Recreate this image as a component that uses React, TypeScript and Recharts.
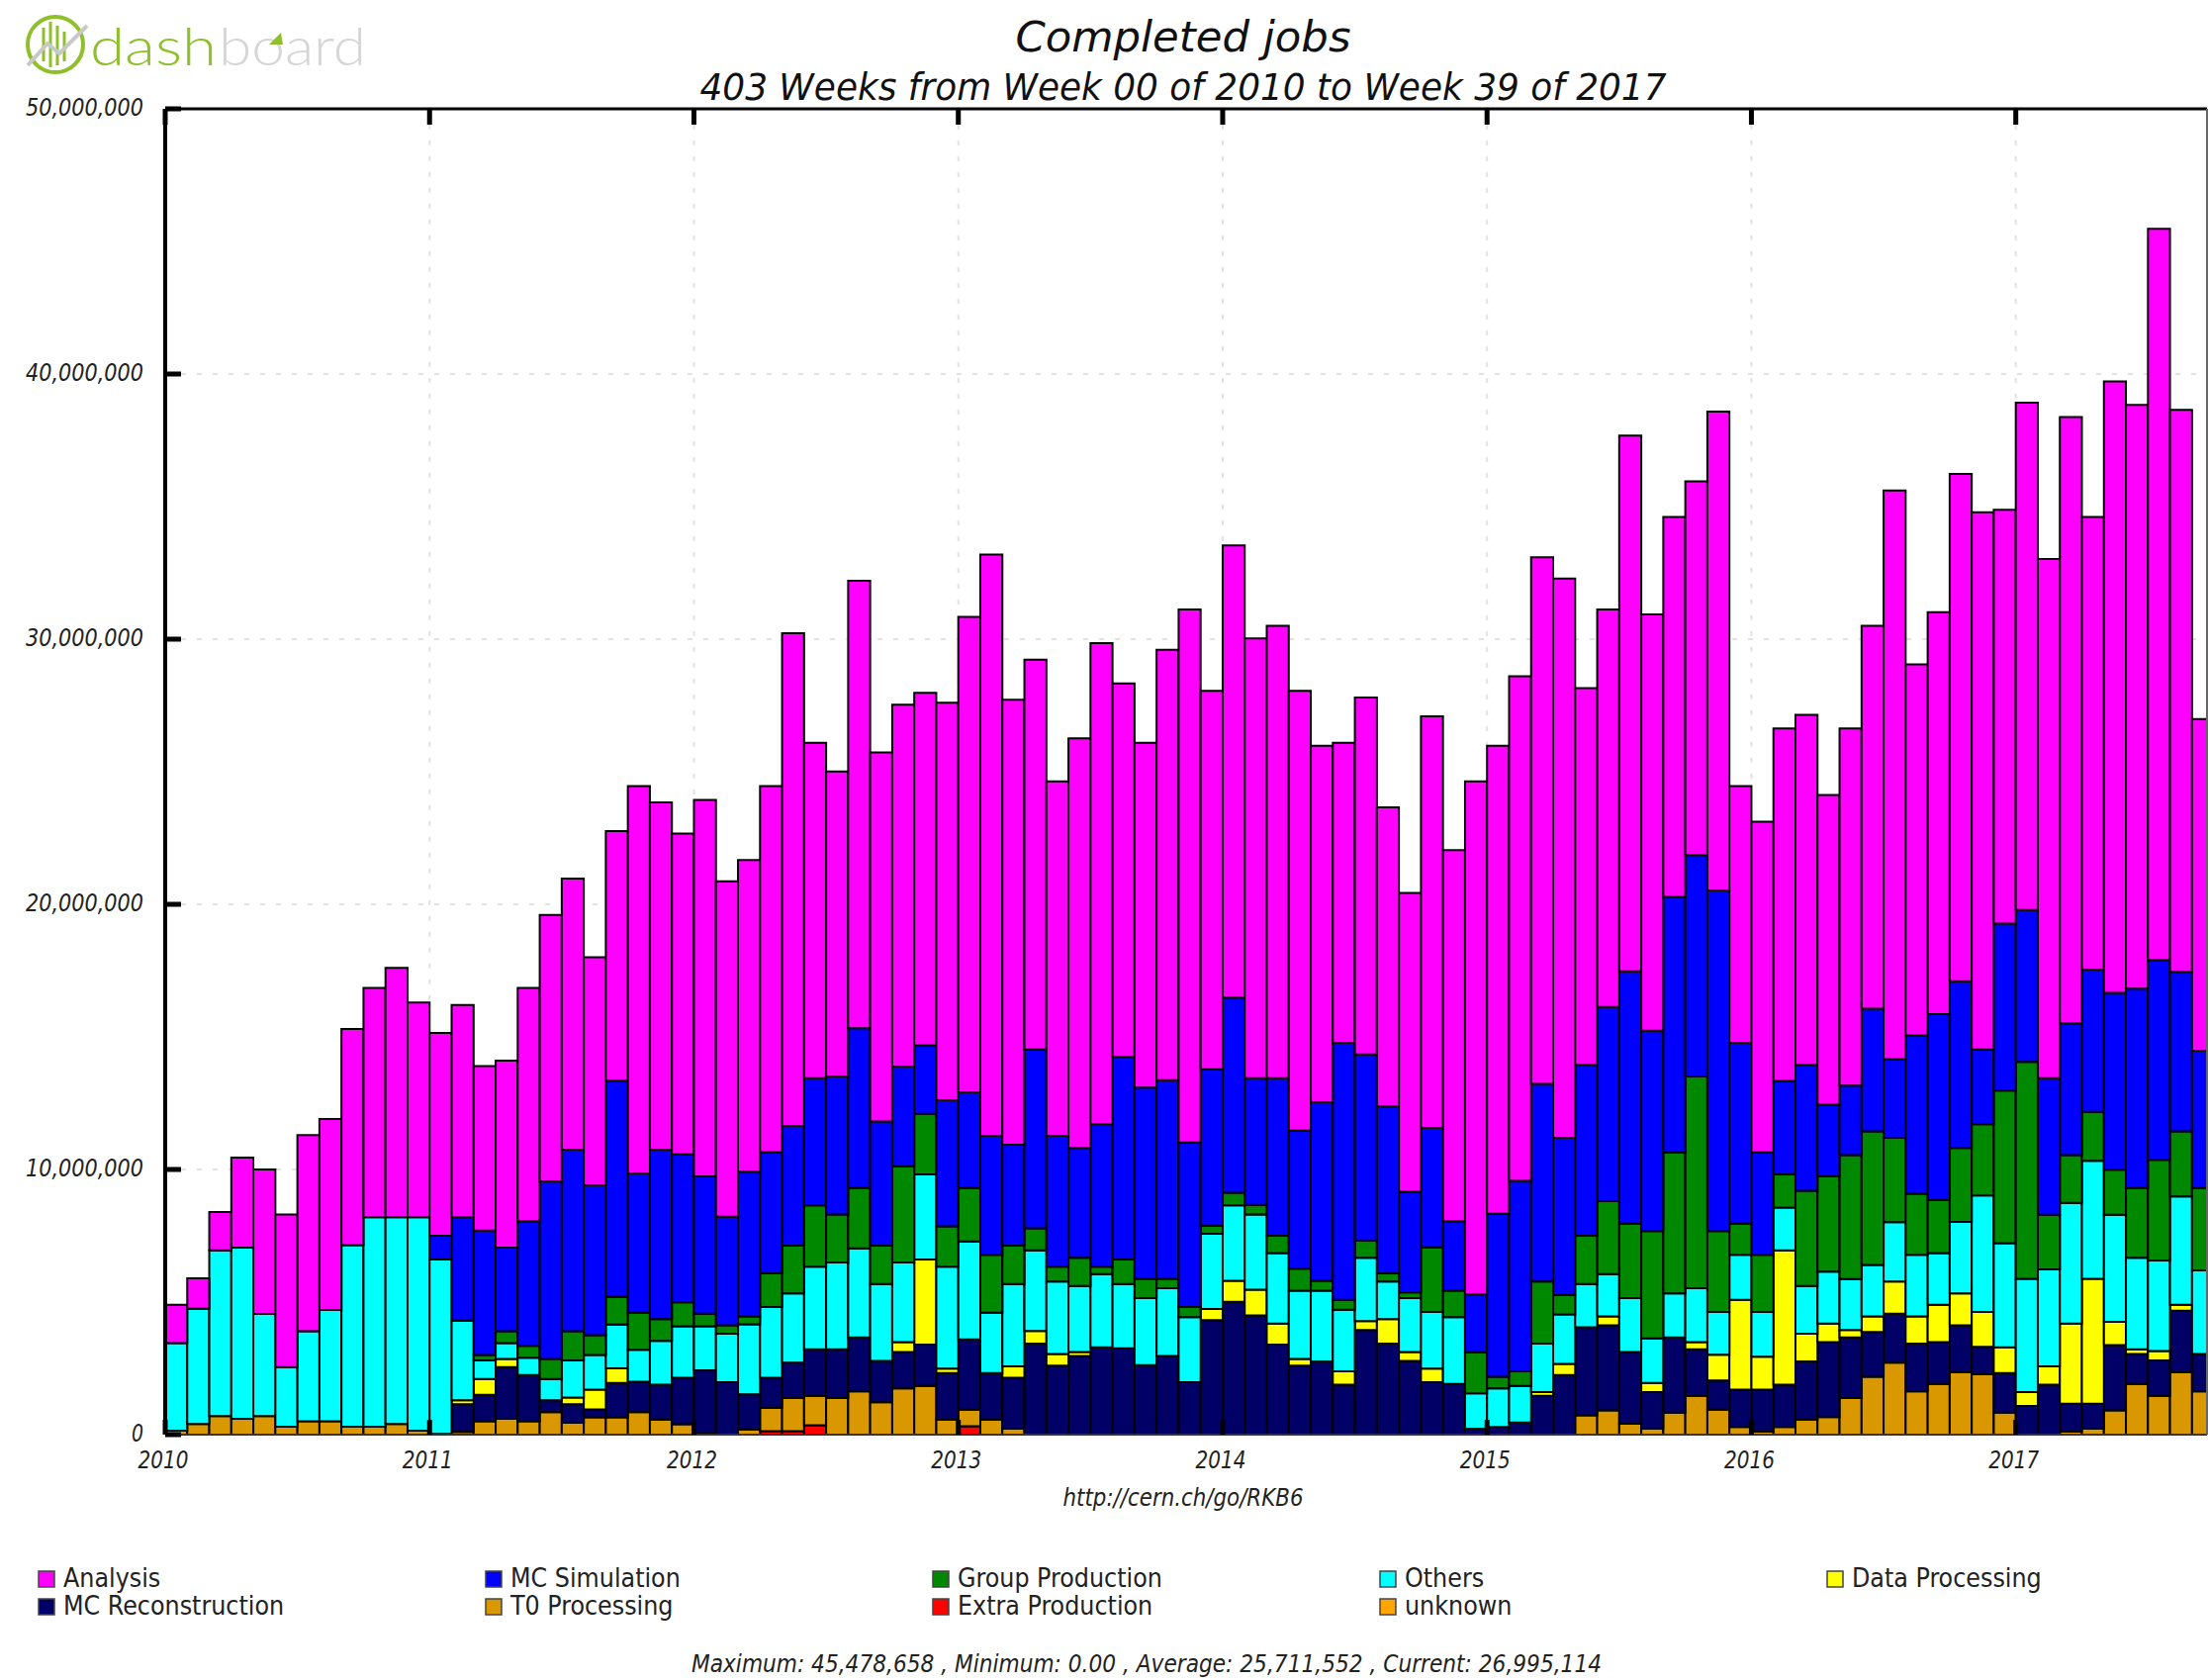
import { BarChart, Bar, XAxis, YAxis, CartesianGrid } from 'recharts';

// Monthly values, in millions of jobs (Jan 2010 .. Sep 2017).
const extraProduction = [
  0, 0, 0, 0, 0, 0, 0, 0, 0, 0, 0, 0, 0, 0, 0, 0, 0, 0, 0, 0, 0, 0, 0, 0, 0, 0, 0, 0.13, 0.13, 0.35, 0, 0, 0, 0, 0, 0, 0.32,
  0, 0, 0, 0, 0, 0, 0, 0, 0, 0, 0, 0, 0, 0, 0, 0, 0, 0, 0, 0, 0, 0, 0, 0, 0, 0, 0, 0, 0, 0, 0, 0, 0, 0, 0, 0, 0, 0, 0, 0, 0,
  0, 0, 0, 0, 0, 0, 0, 0, 0, 0, 0, 0, 0, 0, 0,
];
const t0Processing = [
  0.15, 0.4, 0.7, 0.6, 0.7, 0.3, 0.5, 0.5, 0.3, 0.3, 0.4, 0.15, 0.03, 0.1, 0.5, 0.6, 0.5, 0.85, 0.45, 0.65, 0.65, 0.85, 0.57,
  0.39, 0.04, 0, 0.2, 0.88, 1.25, 1.11, 1.38, 1.63, 1.22, 1.74, 1.84, 0.57, 0.62, 0.57, 0.22, 0, 0, 0, 0, 0, 0, 0, 0, 0, 0, 0,
  0, 0, 0, 0, 0, 0, 0, 0, 0, 0, 0, 0, 0, 0, 0.73, 0.91, 0.41, 0.22, 0.83, 1.46, 0.94, 0.29, 0.11, 0.29, 0.57, 0.66, 1.38, 2.18,
  2.71, 1.63, 1.91, 2.35, 2.28, 0.83, 0, 0, 0.11, 0.22, 0.91, 1.91, 1.46, 2.35, 1.63,
];
const mcReconstruction = [
  0, 0, 0, 0, 0, 0, 0, 0, 0, 0, 0, 0, 0, 1.05, 1.0, 1.95, 1.75, 0.45, 0.7, 0.3, 1.3, 1.15, 1.31, 1.76, 2.39, 1.98, 1.32, 1.14,
  1.33, 1.76, 1.84, 2.04, 1.56, 1.38, 1.56, 1.75, 2.65, 1.75, 1.93, 3.43, 2.6, 2.97, 3.29, 3.26, 2.62, 2.97, 1.98, 4.32, 5.01,
  4.5, 3.4, 2.6, 2.76, 1.88, 3.95, 3.43, 2.78, 1.98, 1.91, 0.22, 0.29, 0.46, 1.46, 2.25, 3.32, 3.21, 2.71, 1.38, 2.84, 1.76, 1.1,
  1.41, 1.59, 1.59, 2.19, 2.83, 2.29, 1.69, 1.85, 1.8, 1.58, 1.77, 1.03, 1.49, 1.08, 1.88, 1.06, 0.95, 2.47, 1.13, 1.34, 2.32, 1.41,
];
const dataProcessing = [
  0, 0, 0, 0, 0, 0, 0, 0, 0, 0, 0, 0, 0, 0.15, 0.6, 0.3, 0, 0, 0.25, 0.75, 0.55, 0, 0, 0, 0, 0, 0, 0, 0, 0, 0, 0, 0, 0.37, 3.2,
  0.17, 0, 0, 0.42, 0.48, 0.44, 0.15, 0, 0, 0, 0, 0, 0.42, 0.79, 0.97, 0.79, 0.25, 0, 0.51, 0.33, 0.93, 0.34, 0.51, 0, 0, 0, 0,
  0.14, 0.42, 0, 0.34, 0, 0.35, 0, 0.27, 0.97, 3.38, 1.24, 5.07, 1.05, 0.7, 0.28, 0.59, 1.21, 1.03, 1.41, 1.21, 1.32, 0.97, 0.52,
  0.69, 3.02, 4.71, 0.87, 0.18, 0.35, 0.23, 0,
];
const others = [
  3.3, 4.35, 6.25, 6.45, 3.85, 2.25, 3.4, 4.2, 6.85, 7.9, 7.8, 8.05, 6.57, 3.0, 0.7, 0.6, 0.65, 0.8, 1.4, 1.3, 1.65, 1.2, 1.66,
  1.94, 1.66, 1.83, 2.64, 2.66, 2.62, 3.11, 3.27, 3.35, 2.9, 3.0, 3.21, 3.84, 3.7, 2.28, 3.11, 3.04, 2.73, 2.49, 2.76, 2.42, 2.53,
  2.55, 2.45, 2.83, 2.85, 2.83, 2.66, 2.58, 2.67, 2.32, 2.39, 1.41, 2.03, 2.14, 2.52, 1.34, 1.45, 1.38, 1.83, 1.86, 1.63, 1.59,
  2.03, 1.68, 1.66, 2.03, 1.62, 1.7, 1.69, 1.61, 1.8, 1.96, 1.92, 1.94, 2.24, 2.32, 1.95, 2.69, 4.39, 3.93, 4.28, 3.66, 4.55, 4.45,
  4.04, 3.45, 3.42, 4.08, 3.15,
];
const groupProduction = [
  0, 0, 0, 0, 0, 0, 0, 0, 0, 0, 0, 0, 0, 0, 0.2, 0.45, 0.45, 0.75, 1.1, 0.75, 1.05, 1.4, 0.82, 0.9, 0.47, 0.31, 0.3, 1.27, 1.8,
  2.32, 1.81, 2.28, 1.45, 3.63, 2.29, 1.52, 2.01, 2.18, 1.45, 0.83, 0.56, 1.06, 0.28, 0.92, 0.73, 0.36, 0.38, 0.3, 0.47, 0.37,
  0.65, 0.83, 0.37, 0.37, 0.65, 0.31, 0.21, 2.43, 1.0, 1.55, 0.44, 0.55, 2.34, 0.73, 1.82, 2.76, 2.81, 4.05, 5.31, 7.99, 3.05,
  1.18, 2.15, 1.25, 3.59, 3.59, 4.67, 5.04, 3.18, 2.31, 1.99, 2.79, 2.69, 5.76, 8.18, 2.06, 1.8, 1.84, 1.7, 2.63, 3.79, 2.46, 3.11,
];
const mcSimulation = [
  0, 0, 0, 0, 0, 0, 0, 0, 0, 0, 0, 0, 0.9, 3.9, 4.7, 3.15, 4.7, 6.7, 6.85, 5.65, 8.15, 5.25, 6.39, 5.58, 5.18, 4.1, 5.46, 4.57,
  4.51, 4.79, 5.21, 6.03, 4.68, 3.76, 2.58, 4.76, 3.61, 4.49, 3.8, 6.74, 4.94, 4.14, 5.38, 7.64, 7.21, 7.49, 6.21, 5.91, 7.36,
  4.77, 5.94, 5.2, 6.74, 9.7, 7.02, 6.3, 3.8, 4.51, 2.62, 2.18, 6.15, 7.18, 7.46, 5.93, 6.45, 7.32, 9.51, 7.55, 9.64, 8.35, 12.84,
  6.82, 3.86, 3.53, 4.75, 2.7, 2.62, 4.62, 2.97, 5.97, 7.02, 6.29, 2.81, 6.29, 5.73, 5.15, 4.97, 5.37, 6.67, 7.52, 7.54, 6.01, 5.18,
];
const analysis = [
  1.45, 1.15, 1.45, 3.4, 5.45, 5.75, 7.4, 7.2, 8.15, 8.65, 9.4, 8.1, 7.65, 8.0, 6.2, 7.05, 8.8, 10.05, 10.22, 8.6, 9.41, 14.61,
  13.09, 12.1, 14.2, 12.65, 11.75, 13.81, 18.58, 12.65, 11.5, 16.87, 13.92, 13.65, 13.3, 14.99, 17.93, 21.92, 16.78, 14.71, 13.37,
  15.45, 18.14, 14.09, 13.0, 16.23, 20.1, 14.27, 17.06, 16.59, 17.06, 16.59, 13.44, 11.31, 13.46, 11.28, 11.27, 15.52, 13.99, 19.35,
  17.65, 19.03, 19.86, 21.1, 14.2, 14.99, 20.21, 15.7, 14.33, 14.09, 18.06, 9.68, 12.48, 13.29, 13.2, 11.68, 13.47, 14.44, 21.45,
  13.99, 15.16, 19.13, 20.27, 15.61, 19.13, 19.58, 22.87, 17.07, 23.06, 22.01, 27.58, 21.2, 12.51,
];

const YEAR_TICKS = [0, 12, 24, 36, 48, 60, 72, 84];
const YEAR_LABELS = ['2010', '2011', '2012', '2013', '2014', '2015', '2016', '2017'];
const VALUE_TICKS = [0, 10000000, 20000000, 30000000, 40000000, 50000000];

// Stack order, bottom to top.
const SERIES = [
  { key: 'extra', values: extraProduction, color: '#ff0000' },
  { key: 't0', values: t0Processing, color: '#d99800' },
  { key: 'reco', values: mcReconstruction, color: '#000066' },
  { key: 'data', values: dataProcessing, color: '#ffff00' },
  { key: 'others', values: others, color: '#00ffff' },
  { key: 'group', values: groupProduction, color: '#008800' },
  { key: 'sim', values: mcSimulation, color: '#0000ff' },
  { key: 'analysis', values: analysis, color: '#ff00ff' },
];

const LEGEND_NAMES = [
  'Analysis', 'MC Simulation', 'Group Production', 'Others', 'Data Processing',
  'MC Reconstruction', 'T0 Processing', 'Extra Production', 'unknown',
];
const LEGEND_COLORS = [
  '#ff00ff', '#0000ff', '#008800', '#00ffff', '#ffff00',
  '#000066', '#d99800', '#ff0000', '#ffa500',
];

const rows = analysis.map((_, i) => {
  const row: Record<string, number> = { pos: i + 0.5 };
  SERIES.forEach((s) => {
    row[s.key] = s.values[i] * 1000000;
  });
  return row;
});

const FONT = '"DejaVu Sans", sans-serif';
const CONDENSED = '"DejaVu Sans Condensed", "DejaVu Sans", sans-serif';
const INK = '#222';

function BottomTick({ x, y, payload }: any) {
  return (
    <g>
      <line x1={x} x2={x} y1={y} y2={y - 15} stroke="#000" strokeWidth={5} />
      <text x={x - 2} y={y + 34} textAnchor="middle" fontFamily={FONT} fontStyle="italic" fontSize={24} fill={INK} textLength={51} lengthAdjust="spacingAndGlyphs">
        {YEAR_LABELS[YEAR_TICKS.indexOf(payload.value)]}
      </text>
    </g>
  );
}

function TopTick({ x, y }: any) {
  return <line x1={x} x2={x} y1={y} y2={y + 16} stroke="#000" strokeWidth={5} />;
}

function LeftTick({ x, y, payload }: any) {
  const label = payload.value.toLocaleString('en-US');
  return (
    <g>
      <line x1={x} x2={x + 16} y1={y} y2={y} stroke="#000" strokeWidth={5} />
      <text x={x - 22} y={y + 7} textAnchor="end" fontFamily={FONT} fontStyle="italic" fontSize={24} fill={INK} textLength={payload.value ? 119 : 12} lengthAdjust="spacingAndGlyphs">
        {label}
      </text>
    </g>
  );
}

function RightTick({ x, y }: any) {
  return <line x1={x} x2={x - 15} y1={y} y2={y} stroke="#000" strokeWidth={5} />;
}

function Logo() {
  return (
    <g>
      <circle cx={56} cy={45} r={28} fill="none" stroke="#8fbf2a" strokeWidth={4} />
      <path d="M44 28V62M51 22V68M58 26V66M65 32V62" stroke="#8fbf2a" strokeWidth={3} fill="none" />
      <path d="M28 66L48 44L60 54L88 26" stroke="#c8c8c8" strokeWidth={4} fill="none" />
      <text x={91} y={66} fontFamily="Lato" fontWeight={300} fontSize={54} fill="#8fbf2a" textLength={128} lengthAdjust="spacingAndGlyphs">dash</text>
      <text x={221} y={66} fontFamily="Lato" fontWeight={300} fontSize={54} fill="#d6d6d6" textLength={149} lengthAdjust="spacingAndGlyphs">board</text>
      <path d="M272 45L286 45L284 33Z" fill="#8fbf2a" />
    </g>
  );
}

function Captions() {
  return (
    <svg width={2232} height={1698} style={{ position: 'absolute', left: 0, top: 0, pointerEvents: 'none' }}>
      <Logo />
      <text x={1196} y={52} textAnchor="middle" fontFamily={FONT} fontStyle="italic" fontSize={43} fill="#111" textLength={339} lengthAdjust="spacingAndGlyphs">Completed jobs</text>
      <text x={1196} y={101} textAnchor="middle" fontFamily={FONT} fontStyle="italic" fontSize={37} fill="#111" textLength={977} lengthAdjust="spacingAndGlyphs">403 Weeks from Week 00 of 2010 to Week 39 of 2017</text>
      <text x={1196} y={1522} textAnchor="middle" fontFamily={FONT} fontStyle="italic" fontSize={24} fill={INK} textLength={243} lengthAdjust="spacingAndGlyphs">http://cern.ch/go/RKB6</text>
      <text x={1159} y={1690} textAnchor="middle" fontFamily={FONT} fontStyle="italic" fontSize={24} fill={INK} textLength={920} lengthAdjust="spacingAndGlyphs">Maximum: 45,478,658 , Minimum: 0.00 , Average: 25,711,552 , Current: 26,995,114</text>
      {LEGEND_NAMES.map((name, i) => {
        const left = 38 + (i % 5) * 452;
        const top = i < 5 ? 1587 : 1615;
        return (
          <g key={name}>
            <rect x={left + 1} y={top + 1} width={16} height={16} fill={LEGEND_COLORS[i]} stroke="#444" strokeWidth={1.5} />
            <text x={left + 26} y={top + 17} fontFamily={CONDENSED} fontSize={26.5} fill={INK}>{name}</text>
          </g>
        );
      })}
    </svg>
  );
}

export default function App() {
  return (
    <div style={{ position: 'absolute', left: 0, top: 0, width: 2232, height: 1698, overflow: 'hidden', background: '#fff' }}>
      <BarChart width={2232} height={1698} data={rows} margin={{ top: 109, right: 0, bottom: 218, left: 0 }} barCategoryGap={0}>
        <CartesianGrid stroke="#e2e2e2" strokeWidth={2} strokeDasharray="5 11" horizontalValues={VALUE_TICKS} verticalValues={YEAR_TICKS} />
        {SERIES.map((s) => (
          <Bar key={s.key} dataKey={s.key} stackId="jobs" fill={s.color} stroke="#000" strokeWidth={2} barSize={22.27} isAnimationActive={false} />
        ))}
        <XAxis
          dataKey="pos"
          type="number"
          domain={[0, 92.68]}
          allowDataOverflow
          ticks={YEAR_TICKS}
          interval={0}
          height={30}
          tick={BottomTick}
          tickSize={0}
          tickMargin={0}
          tickLine={false}
          axisLine={{ stroke: '#333', strokeWidth: 2 }}
        />
        <XAxis
          xAxisId="top"
          orientation="top"
          dataKey="pos"
          type="number"
          domain={[0, 92.68]}
          allowDataOverflow
          ticks={YEAR_TICKS}
          interval={0}
          height={1}
          tick={TopTick}
          tickSize={0}
          tickMargin={0}
          tickLine={false}
          axisLine={{ stroke: '#000', strokeWidth: 3 }}
        />
        <YAxis
          type="number"
          domain={[0, 50000000]}
          ticks={VALUE_TICKS}
          interval={0}
          width={167}
          tick={LeftTick}
          tickSize={0}
          tickMargin={0}
          tickLine={false}
          axisLine={{ stroke: '#000', strokeWidth: 4 }}
        />
        <YAxis
          yAxisId="right"
          orientation="right"
          type="number"
          domain={[0, 50000000]}
          ticks={VALUE_TICKS}
          interval={0}
          width={1}
          tick={RightTick}
          tickSize={0}
          tickMargin={0}
          tickLine={false}
          axisLine={{ stroke: '#666', strokeWidth: 2 }}
        />
      </BarChart>
      <Captions />
    </div>
  );
}
